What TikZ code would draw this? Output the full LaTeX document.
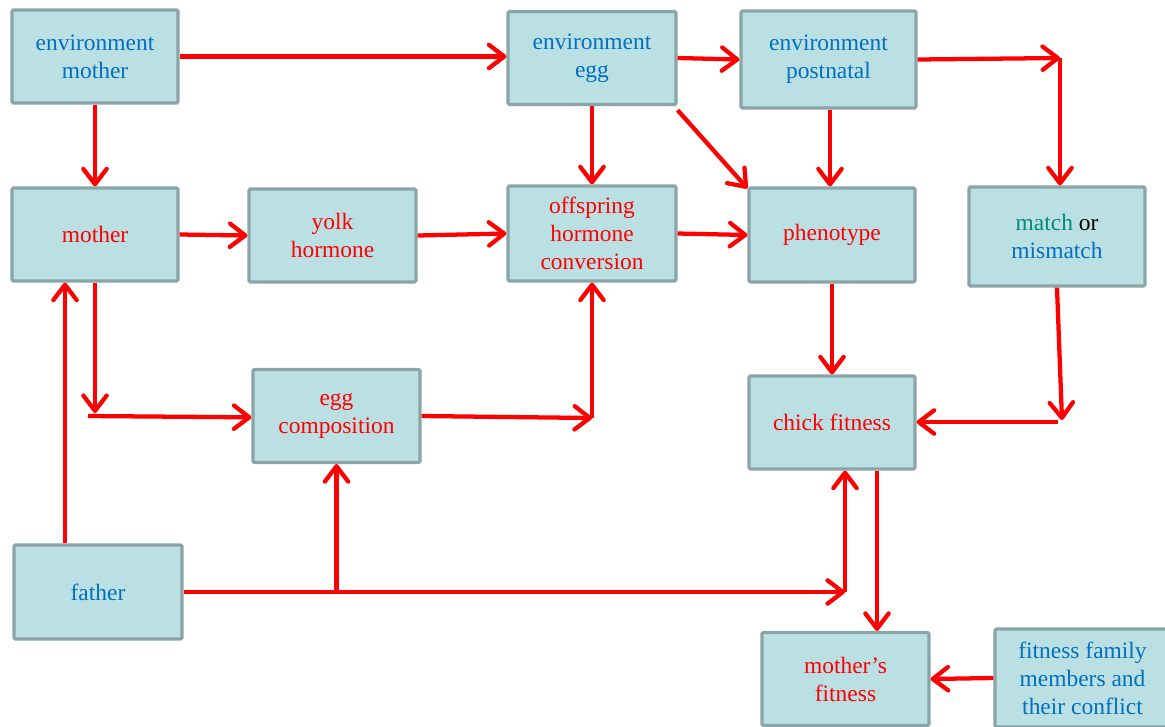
\documentclass[tikz,border=0pt]{standalone}
\usepackage{fontspec}
\setmainfont{Liberation Serif}
\usetikzlibrary{arrows.meta,calc}
\definecolor{boxfill}{HTML}{BBE0E3}
\definecolor{boxline}{HTML}{8AA5A8}
\definecolor{tblue}{HTML}{0070C0}
\definecolor{tred}{HTML}{FF0000}
\definecolor{tteal}{HTML}{008A7E}
\begin{document}
\begin{tikzpicture}[x=0.75pt,y=-0.75pt,
  box/.style={draw=boxline,fill=boxfill,line width=2.4pt,rounded corners=1pt,
    align=center,inner sep=0pt,font=\fontsize{17.6}{21}\selectfont},
  bt/.style={box,text=tblue},
  rt/.style={box,text=tred},
  arr/.style={draw=tred,line width=3.2pt,-{Straight Barb[length=11.5pt,width=17.5pt,line cap=round,line join=round]}},
  ln/.style={draw=tred,line width=3pt}]
\useasboundingbox (0,0) rectangle (1165,726);
\begin{scope}
\clip (0,0) rectangle (1165,726);
\node[bt,minimum width=124.5pt,minimum height=69.75pt] (envM) at (95,56.5) {environment\\mother};
\node[bt,minimum width=126pt,minimum height=69.75pt] (envE) at (592,58) {environment\\egg};
\node[bt,minimum width=131.25pt,minimum height=72.75pt] (envP) at (828.5,59.5) {environment\\postnatal};
\node[rt,minimum width=124.5pt,minimum height=69.75pt] (mother) at (95,234.5) {mother};
\node[rt,minimum width=125.25pt,minimum height=69.75pt] (yolk) at (332.5,235.5) {yolk\\hormone};
\node[rt,minimum width=126pt,minimum height=71.25pt] (off) at (592,233.5) {offspring\\hormone\\conversion};
\node[rt,minimum width=124.5pt,minimum height=70.5pt] (phen) at (832,235) {phenotype};
\node[box,minimum width=132pt,minimum height=74.25pt] (match) at (1057,236.5) {\textcolor{tteal}{match} or\\\textcolor{tblue}{mismatch}};
\node[rt,minimum width=125.25pt,minimum height=69.75pt] (egg) at (336.5,416) {egg\\composition};
\node[rt,minimum width=124.5pt,minimum height=69.75pt] (chick) at (832,422.5) {chick fitness};
\node[bt,minimum width=126pt,minimum height=70.5pt] (father) at (98,592) {father};
\node[rt,minimum width=125.25pt,minimum height=69.75pt] (mf) at (845.5,679) {mother’s\\fitness};
\node[bt,minimum width=131.25pt,minimum height=73.5pt] (fam) at (1082.5,678) {fitness family\\members and\\their conflict};
\end{scope}
% helper coordinates
\coordinate (c1) at (1060,58);
\coordinate (c2) at (1062,420);
\coordinate (c3) at (1058,422);
\coordinate (c4) at (95,413);
\coordinate (c5) at (88,416);
\coordinate (c6) at (592,418);
\coordinate (fx) at (65,0);
\coordinate (c7) at (845,592);
\coordinate (c8) at (877,0);
\coordinate (c9) at (830,0);
% arrows
\draw[arr] (envM.east) -- (envE.west |- envM.east);
\draw[arr] (envM.south) -- (mother.north);
\draw[arr] (envE.east) -- (envP.west);
\draw[arr] (envP.east) -- (c1);
\draw[arr] (c1) -- (c1 |- match.north);
\draw[arr] (envE.south) -- (off.north);
\draw[arr] ([yshift=-3pt]envE.south east) -- ([yshift=-1.5pt]phen.north west);
\draw[arr] (c9 |- envP.south) -- (c9 |- phen.north);
\draw[arr] (mother.east) -- (yolk.west);
\draw[arr] (yolk.east) -- (off.west);
\draw[arr] (off.east) -- (phen.west);
\draw[arr] (mother.south) -- (c4);
\draw[arr] (c5) -- ([yshift=-1pt]egg.west);
\draw[arr] (egg.east) -- (c6);
\draw[arr] (c6) -- (off.south);
\draw[arr] (fx |- father.north) -- (fx |- mother.south);
\draw[arr] (father.east) -- (c7);
\draw[arr] (c7) -- (c7 |- chick.south);
\draw[arr] (egg.south |- father.east) -- (egg.south);
\draw[arr] (phen.south) -- (chick.north);
\draw[arr] (match.south) -- (c2);
\draw[arr] (c3) -- (chick.east |- c3);
\draw[arr] (c8 |- chick.south) -- (c8 |- mf.north);
\draw[arr] (fam.west) -- (mf.east);
\end{tikzpicture}
\end{document}
